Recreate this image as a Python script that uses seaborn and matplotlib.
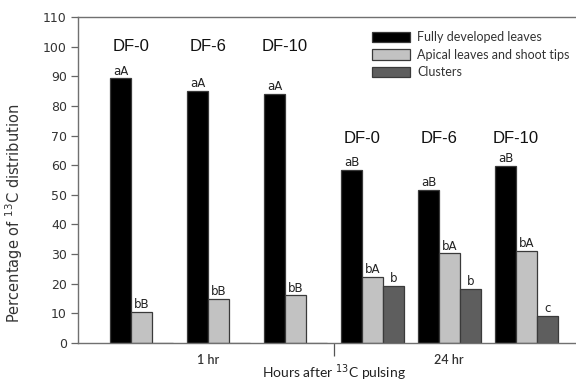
import matplotlib
matplotlib.use("Agg")
import matplotlib.pyplot as plt
import seaborn as sns
import pandas as pd
import numpy as np

groups = ["1hr DF-0", "1hr DF-6", "1hr DF-10", "24hr DF-0", "24hr DF-6", "24hr DF-10"]
group_names = ["DF-0", "DF-6", "DF-10", "DF-0", "DF-6", "DF-10"]
series = ["Fully developed leaves", "Apical leaves and shoot tips", "Clusters"]
fully_developed = [89.3, 85.0, 84.1, 58.5, 51.6, 59.8]
apical = [10.6, 14.9, 16.1, 22.4, 30.3, 31.2]
clusters = [0.0, 0.0, 0.0, 19.4, 18.2, 9.2]
letters_fd = ["aA", "aA", "aA", "aB", "aB", "aB"]
letters_ap = ["bB", "bB", "bB", "bA", "bA", "bA"]
letters_cl = ["", "", "", "b", "b", "c"]
time_labels = ["1 hr", "24 hr"]
yticks = list(range(0, 111, 10))

colors = ["#000000", "#c2c2c2", "#5e5e5e"]

df = pd.DataFrame({
    "group": groups * 3,
    "series": [series[0]] * 6 + [series[1]] * 6 + [series[2]] * 6,
    "value": fully_developed + apical + clusters,
})

sns.set_theme(style="white")
plt.rcParams["font.family"] = ["DejaVu Sans"]

fig = plt.figure(figsize=(5.76, 3.83), dpi=100)
ax = fig.add_axes([78 / 576, 1 - 343 / 383, 1 - 78 / 576, (343 - 17) / 383])

sns.barplot(data=df, x="group", y="value", hue="series", order=groups,
            hue_order=series, palette=colors, width=0.818, ax=ax,
            edgecolor="#3a3a3a", linewidth=0.9, saturation=1, errorbar=None)

for cont, labs in zip(ax.containers, [letters_fd, letters_ap, letters_cl]):
    ax.bar_label(cont, labels=labs, padding=0.5, fontsize=8.5, color="#222222")

# DF group labels
for i, name in enumerate(group_names):
    y = 100 if i < 3 else 69
    ax.text(i - 0.14, y, name, ha="center", va="center", fontsize=12,
            family="Liberation Sans", color="#111111")

ax.set_ylim(0, 110)
ax.set_xlim(-0.825, 5.643)
ax.set_yticks(yticks)
ax.set_yticklabels([str(t) for t in yticks], fontsize=9, color="#333333")
ax.tick_params(axis="y", which="major", left=True, length=5, width=0.9,
               color="#666666", pad=3)

ax.set_xticks([2.5])
ax.set_xticklabels([""])
ax.tick_params(axis="x", which="major", bottom=True, length=9, width=0.9,
               color="#555555")
ax.set_xticks([0.87, 3.99], minor=True)
ax.set_xticklabels(time_labels, minor=True, fontsize=9, family="Lato",
                   fontweight="semibold", color="#333333")
ax.tick_params(axis="x", which="minor", length=0, pad=8)

for s in ["left", "top", "bottom"]:
    ax.spines[s].set_visible(True)
    ax.spines[s].set_color("#707070")
    ax.spines[s].set_linewidth(1.0)
ax.spines["right"].set_visible(False)

ax.set_ylabel(r"Percentage of $^{13}$C distribution", fontsize=10.5, color="#333333")
ax.yaxis.set_label_coords(-0.106, 0.399)
ax.set_xlabel(r"Hours after $^{13}$C pulsing", fontsize=10, family="Lato",
              color="#222222")
ax.xaxis.set_label_coords(0.513, -0.092)
ax.xaxis.label.set_va("center")

leg = ax.legend(loc="upper left", bbox_to_anchor=((367 - 78) / 498, (343 - 26) / 326),
                frameon=False, prop={"family": "Lato", "size": 9},
                handlelength=3.0, handleheight=0.9, handletextpad=0.6,
                labelspacing=0.45, borderaxespad=0)
for t in leg.get_texts():
    t.set_color("#333333")

fig.savefig("out.png", dpi=100)
